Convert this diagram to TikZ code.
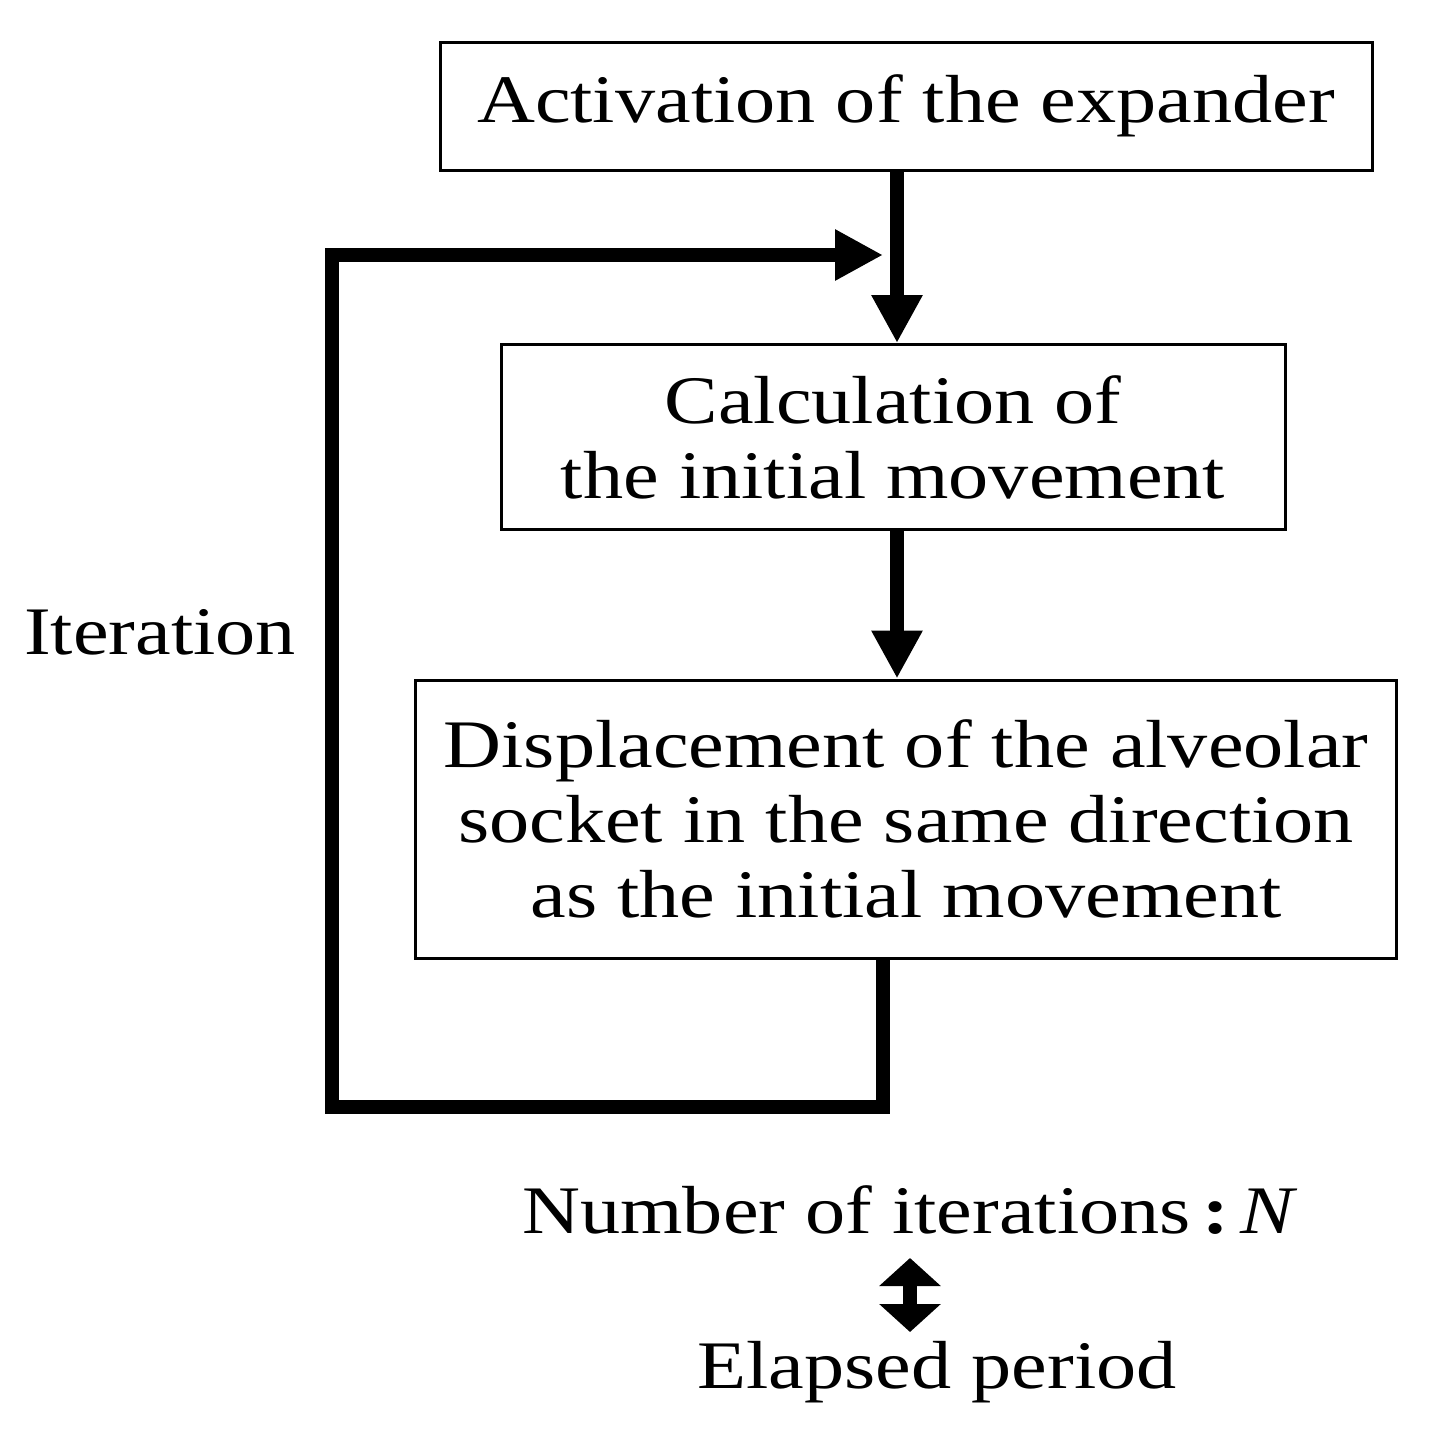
\documentclass[tikz,border=0pt]{standalone}
\usepackage{fontspec}
\setmainfont{Liberation Serif}[FakeStretch=1.18]
\usetikzlibrary{arrows.meta}
\begin{document}
\begin{tikzpicture}[x=0.5pt,y=-0.5pt,
  box/.style={draw,line width=1.5pt,inner sep=0pt,align=center,font=\fontsize{34}{37.5}\selectfont},
  lbl/.style={inner sep=0pt,align=center,font=\fontsize{34}{37.5}\selectfont},
  flow/.style={line width=7pt,-{Triangle[width=24pt,length=24pt]}}]
\useasboundingbox (0,0) rectangle (1431,1441);
\node[box,minimum width=466pt,minimum height=64pt] (a) at (906,106) {Activation of the expander};
\node[box,minimum width=392pt,minimum height=92.5pt] (b) at (893,437) {Calculation of\\the initial movement};
\node[box,minimum width=490.5pt,minimum height=139pt] (c) at (906,819) {Displacement of the alveolar\\socket in the same direction\\as the initial movement};
\coordinate (j) at (883,255);
\coordinate (c1) at (883,1107);
\coordinate (c2) at (332,1107);
\coordinate (c3) at (332,255);
\draw[flow] (a.south -| 897,0) -- (b.north -| 897,0);
\draw[flow] (b.south -| 897,0) -- (c.north -| 897,0);
\draw[line width=7pt,-{Triangle[width=24pt,length=24pt]}] (c.south -| c1) -- (c1) -- (c2) -- (c3) -- (j);
\node[lbl] (it) at (160,632) {Iteration};
\node[lbl] (n) at (910,1210) {Number of iterations\,\textbf{:}\,\textit{N}};
\node[lbl] (e) at (937,1372) {Elapsed period};
\draw[line width=7pt,{Triangle[width=30pt,length=14pt]}-{Triangle[width=30pt,length=14pt]}] (910,1258) -- (910,1332);
\end{tikzpicture}
\end{document}
